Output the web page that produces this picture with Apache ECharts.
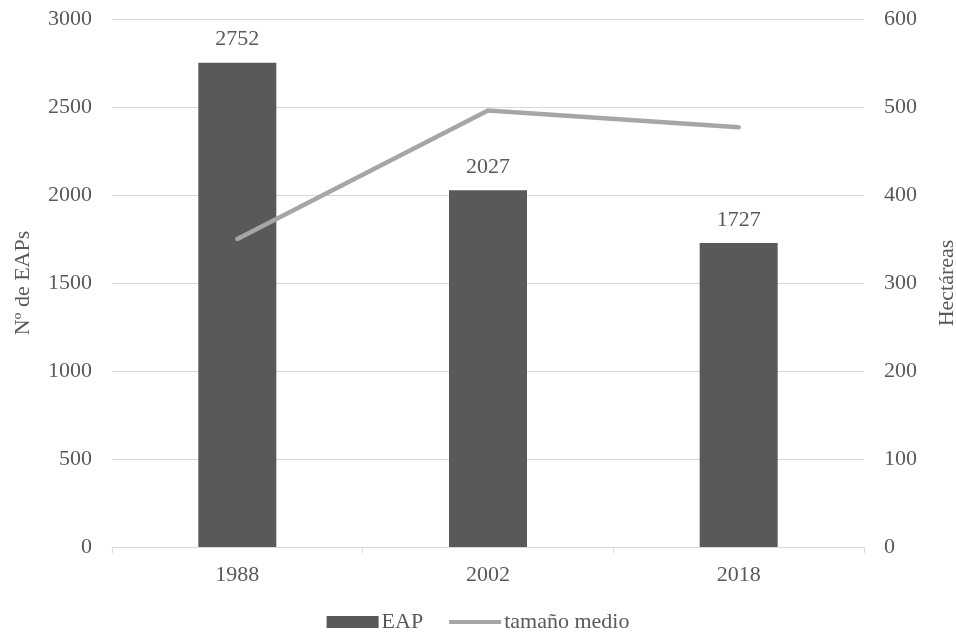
<!DOCTYPE html>
<html><head><meta charset="utf-8">
<script src="https://cdn.jsdelivr.net/npm/echarts@6/dist/echarts.min.js"></script>
<style>html,body{margin:0;padding:0;background:#fff}#c{width:956px;height:638px}</style>
</head><body><div id="c"></div>
<script>
var categories = ['1988', '2002', '2018'];
var eapValues = [2752, 2027, 1727];
var tamanoValues = [350, 496, 477];
var leftTicks = [0, 3000, 500];
var rightTicks = [0, 600, 100];

var font = '"Liberation Serif", "Times New Roman", serif';
var txt = '#595959';
var fs = 22;
var chart = echarts.init(document.getElementById('c'));
chart.setOption({
  animation: false,
  textStyle: { fontFamily: font, color: txt },
  grid: { left: 112, right: 92, top: 19, bottom: 91, containLabel: false, outerBoundsMode: 'none' },
  legend: {
    bottom: 0, left: 'center', itemGap: 26,
    itemWidth: 52, itemHeight: 12,
    textStyle: { fontFamily: font, fontSize: fs, color: txt, padding: [0, 0, 0, -2] },
    data: [
      { name: 'EAP', icon: 'rect' },
      { name: 'tamaño medio', icon: 'path://M0,4 L52,4 L52,8 L0,8 Z', itemStyle: { color: '#a6a6a6' } }
    ]
  },
  xAxis: {
    type: 'category', data: categories,
    axisLine: { lineStyle: { color: '#d9d9d9' } },
    axisTick: { show: true, alignWithLabel: false, length: 6, lineStyle: { color: '#d9d9d9' } },
    axisLabel: { fontFamily: font, fontSize: fs, color: txt, margin: 17, formatter: function (v) { return v; } }
  },
  yAxis: [
    {
      type: 'value', min: leftTicks[0], max: leftTicks[1], interval: leftTicks[2],
      name: 'Nº de EAPs', nameLocation: 'middle', nameGap: 78, nameRotate: 90,
      nameTextStyle: { fontFamily: font, fontSize: fs, color: txt },
      axisLine: { show: false }, axisTick: { show: false },
      splitLine: { lineStyle: { color: '#d9d9d9' } },
      axisLabel: { fontFamily: font, fontSize: fs, color: txt, margin: 20, formatter: function (v) { return String(v); } }
    },
    {
      type: 'value', min: rightTicks[0], max: rightTicks[1], interval: rightTicks[2],
      name: 'Hectáreas', nameLocation: 'middle', nameGap: 72, nameRotate: 90,
      nameTextStyle: { fontFamily: font, fontSize: fs, color: txt },
      axisLine: { show: false }, axisTick: { show: false },
      splitLine: { show: false },
      axisLabel: { fontFamily: font, fontSize: fs, color: txt, margin: 20, formatter: function (v) { return String(v); } }
    }
  ],
  series: [
    {
      name: 'EAP', type: 'bar', data: eapValues, yAxisIndex: 0,
      barWidth: 78,
      itemStyle: { color: '#595959' },
      label: { show: true, position: 'top', distance: 12, fontFamily: font, fontSize: fs, color: txt }
    },
    {
      name: 'tamaño medio', type: 'line', data: tamanoValues, yAxisIndex: 1,
      symbol: 'none',
      lineStyle: { color: '#a6a6a6', width: 4.5, cap: 'round' },
      itemStyle: { color: '#a6a6a6' }
    }
  ]
});
</script></body></html>
